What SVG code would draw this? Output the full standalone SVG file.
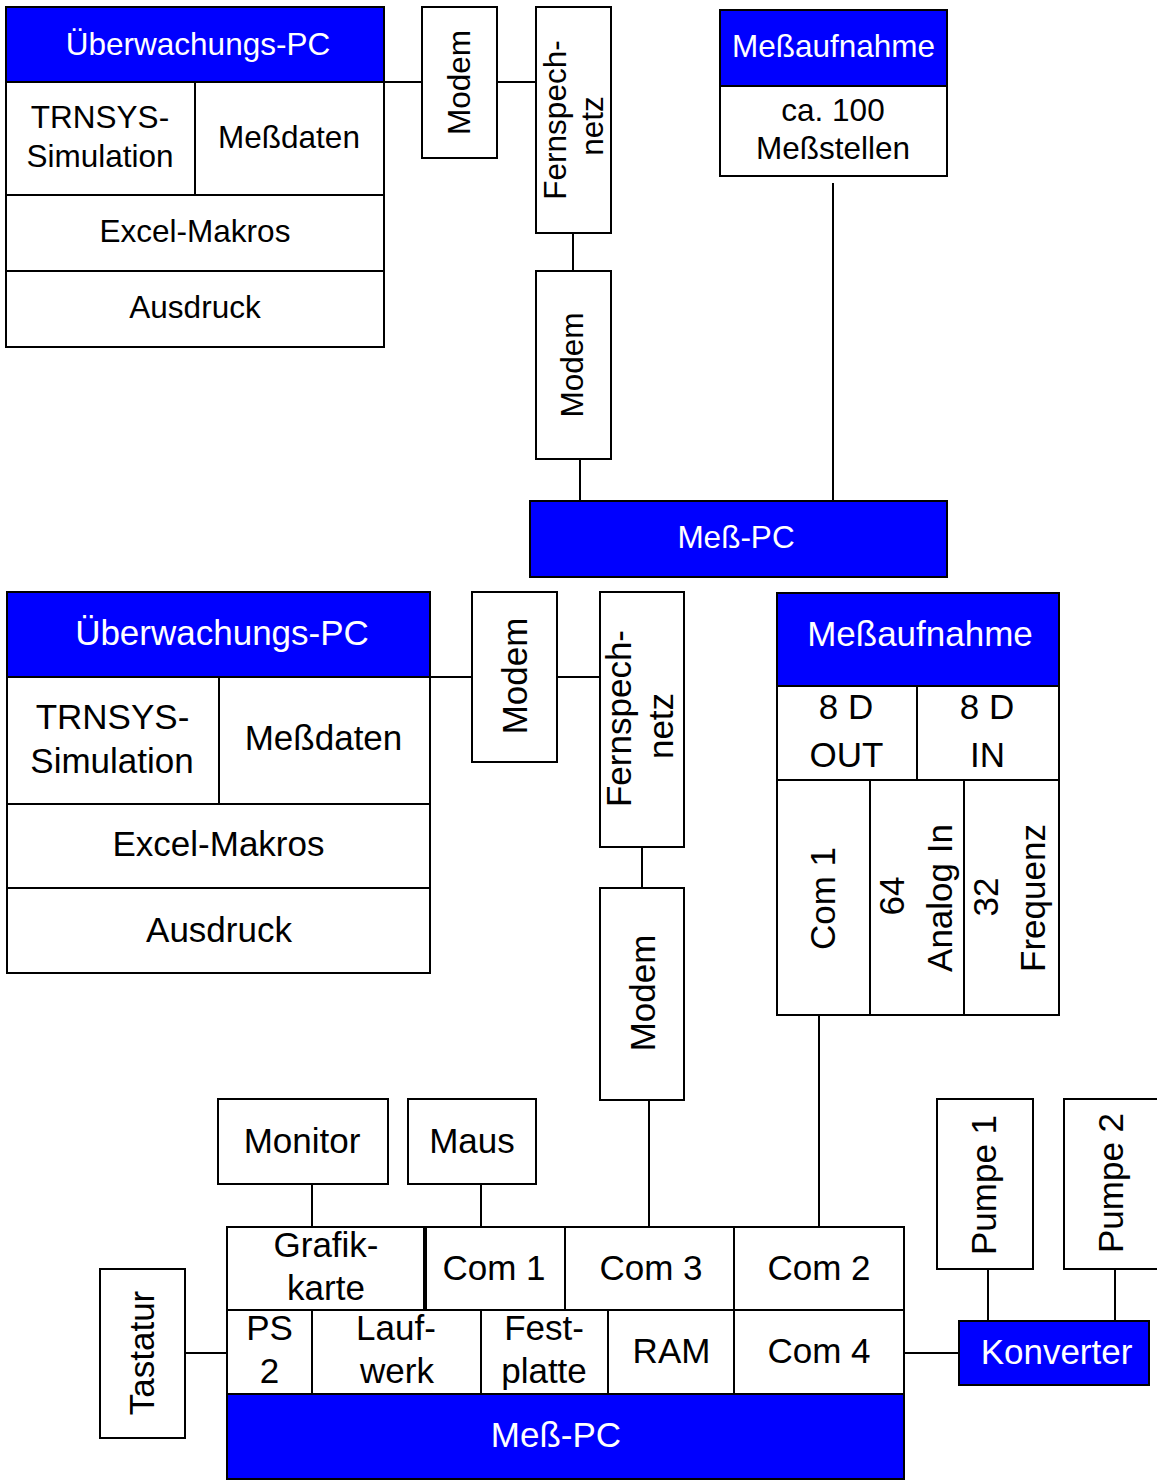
<svg xmlns="http://www.w3.org/2000/svg" width="1157" height="1481" viewBox="0 0 1157 1481">
<style>
.b{fill:#fff;stroke:#000;stroke-width:2}
.h{fill:#0000ff;stroke:#000;stroke-width:2}
.t{font-family:"Liberation Sans",Arial,sans-serif;fill:#000;text-anchor:middle}
.w{fill:#fff}
.s1{font-size:31.5px}
.s2{font-size:35px}
.c{stroke:#000;stroke-width:2;fill:none}
</style>
<rect width="1157" height="1481" fill="#fff"/>
<g id="connectors">
<line class="c" x1="384" y1="82" x2="422" y2="82"/>
<line class="c" x1="497" y1="82" x2="536" y2="82"/>
<line class="c" x1="573" y1="233" x2="573" y2="271"/>
<line class="c" x1="580" y1="459" x2="580" y2="501"/>
<line class="c" x1="833" y1="183" x2="833" y2="501"/>
<line class="c" x1="430" y1="677" x2="472" y2="677"/>
<line class="c" x1="557" y1="677" x2="600" y2="677"/>
<line class="c" x1="642" y1="847" x2="642" y2="888"/>
<line class="c" x1="649" y1="1100" x2="649" y2="1227"/>
<line class="c" x1="819" y1="1015" x2="819" y2="1227"/>
<line class="c" x1="312" y1="1184" x2="312" y2="1227"/>
<line class="c" x1="481" y1="1184" x2="481" y2="1227"/>
<line class="c" x1="185" y1="1353" x2="227" y2="1353"/>
<line class="c" x1="904" y1="1353" x2="959" y2="1353"/>
<line class="c" x1="988" y1="1269" x2="988" y2="1321"/>
<line class="c" x1="1115" y1="1269" x2="1115" y2="1321"/>
</g>
<g id="ueberwachungs-pc-1">
<rect class="h" x="6" y="7" width="378" height="75"/>
<rect class="b" x="6" y="82" width="189" height="113"/>
<rect class="b" x="195" y="82" width="189" height="113"/>
<rect class="b" x="6" y="195" width="378" height="76"/>
<rect class="b" x="6" y="271" width="378" height="76"/>
<text class="t s1 w" x="198" y="55">Überwachungs-PC</text>
<text class="t s1" x="100" y="128">TRNSYS-</text>
<text class="t s1" x="100" y="167">Simulation</text>
<text class="t s1" x="289" y="148">Meßdaten</text>
<text class="t s1" x="195" y="242">Excel-Makros</text>
<text class="t s1" x="195" y="318">Ausdruck</text>
</g>
<g id="modem-1">
<rect class="b" x="422" y="7" width="75" height="151"/>
<text class="t s1" transform="translate(470,82.5) rotate(-90)">Modem</text>
</g>
<g id="fernsprechnetz-1">
<rect class="b" x="536" y="7" width="75" height="226"/>
<text class="t s1" transform="translate(566,120) rotate(-90)">Fernspech-</text>
<text class="t s1" transform="translate(603,126) rotate(-90)">netz</text>
</g>
<g id="modem-2">
<rect class="b" x="536" y="271" width="75" height="188"/>
<text class="t s1" transform="translate(583,365) rotate(-90)">Modem</text>
</g>
<g id="messaufnahme-1">
<rect class="h" x="720" y="10" width="227" height="76"/>
<rect class="b" x="720" y="86" width="227" height="90"/>
<text class="t s1 w" x="833.5" y="57">Meßaufnahme</text>
<text class="t s1" x="833" y="121">ca. 100</text>
<text class="t s1" x="833" y="159">Meßstellen</text>
</g>
<g id="mess-pc-1">
<rect class="h" x="530" y="501" width="417" height="76"/>
<text class="t s1 w" x="736" y="548">Meß-PC</text>
</g>
<g id="ueberwachungs-pc-2">
<rect class="h" x="7" y="592" width="423" height="85"/>
<rect class="b" x="7" y="677" width="212" height="127"/>
<rect class="b" x="219" y="677" width="211" height="127"/>
<rect class="b" x="7" y="804" width="423" height="84"/>
<rect class="b" x="7" y="888" width="423" height="85"/>
<text class="t s2 w" x="222" y="645">Überwachungs-PC</text>
<text class="t s2" x="112.5" y="729">TRNSYS-</text>
<text class="t s2" x="112" y="773">Simulation</text>
<text class="t s2" x="323.5" y="750">Meßdaten</text>
<text class="t s2" x="218.5" y="856">Excel-Makros</text>
<text class="t s2" x="219" y="942">Ausdruck</text>
</g>
<g id="modem-3">
<rect class="b" x="472" y="592" width="85" height="170"/>
<text class="t s2" transform="translate(527,676) rotate(-90)">Modem</text>
</g>
<g id="fernsprechnetz-2">
<rect class="b" x="600" y="592" width="84" height="255"/>
<text class="t s2" transform="translate(631,718.5) rotate(-90)">Fernspech-</text>
<text class="t s2" transform="translate(673,726) rotate(-90)">netz</text>
</g>
<g id="modem-4">
<rect class="b" x="600" y="888" width="84" height="212"/>
<text class="t s2" transform="translate(655,993) rotate(-90)">Modem</text>
</g>
<g id="messaufnahme-2">
<rect class="h" x="777" y="593" width="282" height="93"/>
<rect class="b" x="777" y="686" width="140" height="94"/>
<rect class="b" x="917" y="686" width="142" height="94"/>
<rect class="b" x="777" y="780" width="93" height="235"/>
<rect class="b" x="870" y="780" width="94" height="235"/>
<rect class="b" x="964" y="780" width="95" height="235"/>
<text class="t s2 w" x="920" y="646">Meßaufnahme</text>
<text class="t s2" x="846" y="719">8 D</text>
<text class="t s2" x="846.5" y="767">OUT</text>
<text class="t s2" x="987" y="719">8 D</text>
<text class="t s2" x="987.5" y="767">IN</text>
<text class="t s2" transform="translate(835,898.5) rotate(-90)">Com 1</text>
<text class="t s2" transform="translate(904,896) rotate(-90)">64</text>
<text class="t s2" transform="translate(952,898) rotate(-90)">Analog In</text>
<text class="t s2" transform="translate(998,897) rotate(-90)">32</text>
<text class="t s2" transform="translate(1045,898) rotate(-90)">Frequenz</text>
</g>
<g id="monitor">
<rect class="b" x="218" y="1099" width="170" height="85"/>
<text class="t s2" x="302" y="1153">Monitor</text>
</g>
<g id="maus">
<rect class="b" x="408" y="1099" width="128" height="85"/>
<text class="t s2" x="472" y="1153">Maus</text>
</g>
<g id="tastatur">
<rect class="b" x="100" y="1269" width="85" height="169"/>
<text class="t s2" transform="translate(154,1353) rotate(-90)">Tastatur</text>
</g>
<g id="pumpe-1">
<rect class="b" x="937" y="1099" width="96" height="170"/>
<text class="t s2" transform="translate(996,1185) rotate(-90)">Pumpe 1</text>
</g>
<g id="pumpe-2">
<rect class="b" x="1064" y="1099" width="96" height="170"/>
<text class="t s2" transform="translate(1123,1183) rotate(-90)">Pumpe 2</text>
</g>
<g id="konverter">
<rect class="h" x="959" y="1321" width="190" height="64"/>
<text class="t s2 w" x="1056.5" y="1364">Konverter</text>
</g>
<g id="mess-pc-2">
<rect class="b" x="227" y="1227" width="198" height="83"/>
<rect class="b" x="425" y="1227" width="140" height="83"/>
<rect class="b" x="565" y="1227" width="169" height="83"/>
<rect class="b" x="734" y="1227" width="170" height="83"/>
<rect class="b" x="227" y="1310" width="85" height="84"/>
<rect class="b" x="312" y="1310" width="169" height="84"/>
<rect class="b" x="481" y="1310" width="127" height="84"/>
<rect class="b" x="608" y="1310" width="126" height="84"/>
<rect class="b" x="734" y="1310" width="170" height="84"/>
<line x1="425" y1="1227" x2="425" y2="1310" stroke="#000" stroke-width="4"/>
<rect class="h" x="227" y="1394" width="677" height="85"/>
<text class="t s2" x="326" y="1257">Grafik-</text>
<text class="t s2" x="326" y="1300">karte</text>
<text class="t s2" x="494" y="1280">Com 1</text>
<text class="t s2" x="651" y="1280">Com 3</text>
<text class="t s2" x="819" y="1280">Com 2</text>
<text class="t s2" x="269.5" y="1340">PS</text>
<text class="t s2" x="269.5" y="1383">2</text>
<text class="t s2" x="396" y="1340">Lauf-</text>
<text class="t s2" x="397" y="1383">werk</text>
<text class="t s2" x="544" y="1340">Fest-</text>
<text class="t s2" x="544" y="1383">platte</text>
<text class="t s2" x="671.5" y="1363">RAM</text>
<text class="t s2" x="819" y="1363">Com 4</text>
<text class="t s2 w" x="556" y="1447">Meß-PC</text>
</g>
</svg>
